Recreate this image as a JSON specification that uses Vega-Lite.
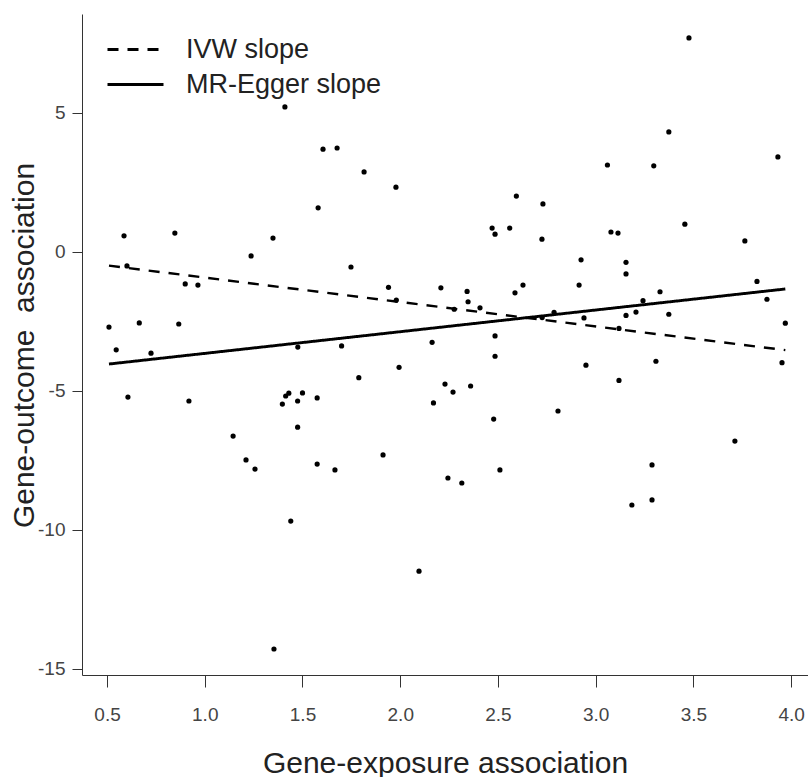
{
  "$schema": "https://vega.github.io/schema/vega-lite/v6.json",
  "description": "MR scatter: gene-exposure vs gene-outcome association with IVW and MR-Egger slopes.",
  "autosize": "none",
  "padding": {"left": 82, "top": 14, "right": 0, "bottom": 102},
  "width": 726,
  "height": 661,
  "background": "white",
  "config": {
    "view": {"stroke": null},
    "font": "Liberation Sans",
    "axis": {
      "grid": false,
      "domainColor": "#333",
      "tickColor": "#333",
      "labelColor": "#444",
      "labelFont": "Liberation Sans",
      "labelFontSize": 19,
      "titleFont": "Liberation Sans",
      "titleFontSize": 30,
      "titleFontWeight": "normal",
      "titleColor": "#222"
    },
    "legend": {
      "title": null,
      "orient": "none",
      "padding": 0,
      "symbolSize": 3136,
      "symbolStrokeWidth": 3,
      "symbolStrokeColor": "black",
      "labelOffset": 21,
      "labelFont": "Liberation Sans",
      "labelFontSize": 27,
      "labelColor": "#222",
      "labelLimit": 400
    }
  },
  "datasets": {
    "snps": [
      {"bx": 0.51, "by": -2.70}, {"bx": 0.547, "by": -3.52}, {"bx": 0.587, "by": 0.58},
      {"bx": 0.602, "by": -0.50}, {"bx": 0.607, "by": -5.22}, {"bx": 0.665, "by": -2.55},
      {"bx": 0.725, "by": -3.64}, {"bx": 0.847, "by": 0.68}, {"bx": 0.867, "by": -2.59},
      {"bx": 0.90, "by": -1.15}, {"bx": 0.919, "by": -5.36}, {"bx": 0.965, "by": -1.19},
      {"bx": 1.145, "by": -6.62}, {"bx": 1.211, "by": -7.48}, {"bx": 1.237, "by": -0.14},
      {"bx": 1.257, "by": -7.81}, {"bx": 1.349, "by": 0.50}, {"bx": 1.354, "by": -14.28},
      {"bx": 1.397, "by": -5.47}, {"bx": 1.41, "by": 5.22}, {"bx": 1.414, "by": -5.18},
      {"bx": 1.43, "by": -5.08}, {"bx": 1.44, "by": -9.68}, {"bx": 1.475, "by": -5.36},
      {"bx": 1.475, "by": -6.30}, {"bx": 1.476, "by": -3.42}, {"bx": 1.50, "by": -5.07},
      {"bx": 1.575, "by": -5.25}, {"bx": 1.575, "by": -7.63}, {"bx": 1.58, "by": 1.59},
      {"bx": 1.605, "by": 3.70}, {"bx": 1.666, "by": -7.84}, {"bx": 1.677, "by": 3.74},
      {"bx": 1.70, "by": -3.38}, {"bx": 1.748, "by": -0.54}, {"bx": 1.788, "by": -4.52},
      {"bx": 1.815, "by": 2.88}, {"bx": 1.912, "by": -7.30}, {"bx": 1.94, "by": -1.27},
      {"bx": 1.978, "by": 2.33}, {"bx": 1.98, "by": -1.73}, {"bx": 1.994, "by": -4.15},
      {"bx": 2.096, "by": -11.48}, {"bx": 2.163, "by": -3.25}, {"bx": 2.17, "by": -5.43},
      {"bx": 2.208, "by": -1.29}, {"bx": 2.229, "by": -4.75}, {"bx": 2.244, "by": -8.13},
      {"bx": 2.27, "by": -5.04}, {"bx": 2.276, "by": -2.06}, {"bx": 2.315, "by": -8.31},
      {"bx": 2.342, "by": -1.42}, {"bx": 2.347, "by": -1.79}, {"bx": 2.36, "by": -4.82},
      {"bx": 2.408, "by": -2.01}, {"bx": 2.47, "by": 0.86}, {"bx": 2.478, "by": -6.01},
      {"bx": 2.485, "by": 0.64}, {"bx": 2.485, "by": -3.02}, {"bx": 2.485, "by": -3.75},
      {"bx": 2.51, "by": -7.84}, {"bx": 2.56, "by": 0.86}, {"bx": 2.587, "by": -1.47},
      {"bx": 2.594, "by": 2.01}, {"bx": 2.628, "by": -1.19}, {"bx": 2.725, "by": 0.46},
      {"bx": 2.726, "by": -2.36}, {"bx": 2.73, "by": 1.73}, {"bx": 2.787, "by": -2.17},
      {"bx": 2.807, "by": -5.72}, {"bx": 2.915, "by": -1.19}, {"bx": 2.925, "by": -0.28},
      {"bx": 2.94, "by": -2.37}, {"bx": 2.95, "by": -4.07}, {"bx": 3.06, "by": 3.13},
      {"bx": 3.078, "by": 0.72}, {"bx": 3.114, "by": 0.68}, {"bx": 3.119, "by": -2.75},
      {"bx": 3.119, "by": -4.62}, {"bx": 3.155, "by": -0.37}, {"bx": 3.155, "by": -0.79},
      {"bx": 3.155, "by": -2.28}, {"bx": 3.185, "by": -9.10}, {"bx": 3.206, "by": -2.16},
      {"bx": 3.242, "by": -1.75}, {"bx": 3.288, "by": -7.66}, {"bx": 3.288, "by": -8.92},
      {"bx": 3.297, "by": 3.10}, {"bx": 3.308, "by": -3.93}, {"bx": 3.329, "by": -1.43},
      {"bx": 3.374, "by": 4.32}, {"bx": 3.374, "by": -2.24}, {"bx": 3.456, "by": 1.00},
      {"bx": 3.477, "by": 7.70}, {"bx": 3.712, "by": -6.80}, {"bx": 3.763, "by": 0.40},
      {"bx": 3.825, "by": -1.06}, {"bx": 3.876, "by": -1.70}, {"bx": 3.932, "by": 3.42},
      {"bx": 3.953, "by": -3.98}, {"bx": 3.97, "by": -2.56}
    ],
    "ivw": [
      {"method": "IVW slope", "bx": 0.51, "by": -0.49},
      {"method": "IVW slope", "bx": 3.97, "by": -3.53}
    ],
    "egger": [
      {"method": "MR-Egger slope", "bx": 0.51, "by": -4.03},
      {"method": "MR-Egger slope", "bx": 3.97, "by": -1.33}
    ]
  },
  "layer": [
    {
      "description": "top edge of the box",
      "mark": {"type": "rule", "color": "#333", "strokeWidth": 1},
      "encoding": {"y": {"datum": 8.561, "type": "quantitative"}}
    },
    {
      "data": {"name": "snps"},
      "mark": {"type": "circle", "color": "black", "size": 27, "opacity": 1},
      "encoding": {
        "x": {
          "field": "bx", "type": "quantitative",
          "scale": {"domain": [0.372, 4.086], "nice": false, "zero": false},
          "axis": {
            "values": [0.5, 1, 1.5, 2, 2.5, 3, 3.5, 4],
            "labelExpr": "format(datum.value, '.1f')",
            "tickSize": 12,
            "labelPadding": 18,
            "title": "Gene-exposure association",
            "titleBaseline": "alphabetic",
            "titleY": 97
          }
        },
        "y": {
          "field": "by", "type": "quantitative",
          "scale": {"domain": [-15.216, 8.561], "nice": false, "zero": false},
          "axis": {
            "values": [-15, -10, -5, 0, 5],
            "labelExpr": "toString(datum.value)",
            "tickSize": 10,
            "labelPadding": 7,
            "title": "Gene-outcome\u00a0 association",
            "titleBaseline": "alphabetic",
            "titleX": -49,
            "titleY": 331
          }
        }
      }
    },
    {
      "data": {"name": "ivw"},
      "mark": {"type": "line", "color": "black", "strokeWidth": 2.4},
      "encoding": {
        "x": {"field": "bx", "type": "quantitative"},
        "y": {"field": "by", "type": "quantitative"},
        "strokeDash": {
          "field": "method", "type": "nominal",
          "scale": {"domain": ["IVW slope"], "range": [[11, 9]]},
          "legend": {"legendX": 24, "legendY": 6}
        }
      }
    },
    {
      "data": {"name": "egger"},
      "mark": {"type": "line", "color": "black", "strokeWidth": 2.9},
      "encoding": {
        "x": {"field": "bx", "type": "quantitative"},
        "y": {"field": "by", "type": "quantitative"},
        "strokeDash": {
          "field": "method", "type": "nominal",
          "scale": {"domain": ["MR-Egger slope"], "range": [[1, 0]]},
          "legend": {"legendX": 24, "legendY": 41}
        }
      }
    }
  ],
  "resolve": {
    "scale": {"strokeDash": "independent"},
    "legend": {"strokeDash": "independent"}
  }
}
